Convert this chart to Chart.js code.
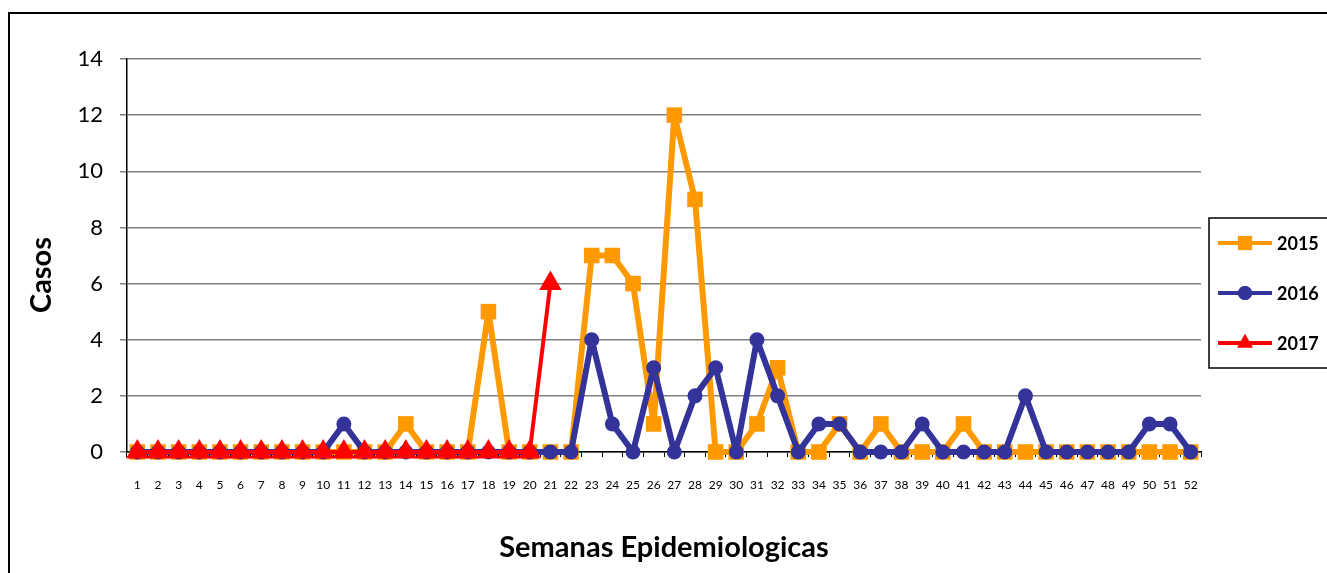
<!DOCTYPE html>
<html>
<head>
<meta charset="utf-8">
<script src="https://cdn.jsdelivr.net/npm/chart.js@4.4.1/dist/chart.umd.min.js"></script>
<style>
  html, body { margin: 0; padding: 0; background: #fff; overflow: hidden; }
  .frame {
    position: absolute; left: 8px; top: 12px; width: 1340px; height: 600px;
    border: 2px solid #000; box-sizing: border-box;
  }
  canvas { position: absolute; left: 0; top: 0; }
</style>
</head>
<body>
<div class="frame"></div>
<canvas id="chart" width="1327" height="573"></canvas>
<script>
const weeks = Array.from({ length: 52 }, (_, i) => String(i + 1));

const cases2015 = [0,0,0,0,0,0,0,0,0,0, 0,0,0,1,0,0,0,5,0,0, 0,0,7,7,6,1,12,9,0,0,
                   1,3,0,0,1,0,1,0,0,0, 1,0,0,0,0,0,0,0,0,0, 0,0];
const cases2016 = [0,0,0,0,0,0,0,0,0,0, 1,0,0,0,0,0,0,0,0,0, 0,0,4,1,0,3,0,2,3,0,
                   4,2,0,1,1,0,0,0,1,0, 0,0,0,2,0,0,0,0,0,1, 1,0];
const cases2017 = [0,0,0,0,0,0,0,0,0,0, 0,0,0,0,0,0,0,0,0,0, 6];

const yTicks = [0, 2, 4, 6, 8, 10, 12, 14];

const COLOR_2015 = "#FF9900";
const COLOR_2016 = "#333399";
const COLOR_2017 = "#FF0000";
const FONT = "Lato, 'Open Sans', sans-serif";

// y title sits a bit below the middle of the plot, as in the original
const yTitlePlugin = {
    id: "yTitle",
    afterDraw(chart) {
        const ctx = chart.ctx;
        ctx.save();
        ctx.translate(42, 275);
        ctx.rotate(-Math.PI / 2);
        ctx.fillStyle = "#000";
        ctx.font = "bold 29px " + FONT;
        ctx.textAlign = "center";
        ctx.textBaseline = "middle";
        ctx.fillText("Casos", 0, 0);
        ctx.restore();
    }
};

const legendPlugin = {
    id: "boxLegend",
    afterDraw(chart) {
        const ctx = chart.ctx;
        const x = 1209, y = 218, w = 130, h = 150;
        ctx.save();
        ctx.strokeStyle = "#000";
        ctx.lineWidth = 1.5;
        ctx.strokeRect(x, y, w, h);
        const rows = [
            { label: "2015", color: COLOR_2015, style: "rect", r: 10 },
            { label: "2016", color: COLOR_2016, style: "circle", r: 7 },
            { label: "2017", color: COLOR_2017, style: "triangle", r: 9 }
        ];
        rows.forEach((row, i) => {
            const cy = y + 25 + i * 50;
            ctx.strokeStyle = row.color;
            ctx.lineWidth = 4;
            ctx.beginPath();
            ctx.moveTo(x + 9, cy);
            ctx.lineTo(x + 63, cy);
            ctx.stroke();
            ctx.fillStyle = row.color;
            ctx.lineWidth = 1;
            Chart.helpers.drawPoint(ctx, { pointStyle: row.style, radius: row.r, borderWidth: 0 }, x + 36, cy);
            ctx.fill();
            ctx.fillStyle = "#000";
            ctx.font = "bold 18px " + FONT;
            ctx.textBaseline = "middle";
            ctx.fillText(row.label, x + 68, cy + 1);
        });
        ctx.restore();
    }
};

new Chart(document.getElementById("chart"), {
    type: "line",
    data: {
        labels: weeks,
        datasets: [
            {
                label: "2015",
                data: cases2015,
                borderColor: COLOR_2015,
                backgroundColor: COLOR_2015,
                borderWidth: 6,
                borderJoinStyle: "bevel",
                pointStyle: "rect",
                pointRadius: 11,
                pointBorderWidth: 0,
                clip: false,
                order: 3
            },
            {
                label: "2016",
                data: cases2016,
                borderColor: COLOR_2016,
                backgroundColor: COLOR_2016,
                borderWidth: 6,
                borderJoinStyle: "bevel",
                pointStyle: "circle",
                pointRadius: 7.5,
                pointBorderWidth: 0,
                clip: false,
                order: 2
            },
            {
                label: "2017",
                data: cases2017,
                borderColor: COLOR_2017,
                backgroundColor: COLOR_2017,
                borderWidth: 4,
                borderJoinStyle: "bevel",
                pointStyle: "triangle",
                pointRadius: 13,
                pointBorderWidth: 0,
                clip: false,
                order: 1
            }
        ]
    },
    options: {
        responsive: false,
        animation: false,
        layout: { padding: { top: 59, right: 126, left: 0, bottom: 0 } },
        elements: { line: { tension: 0 } },
        scales: {
            x: {
                offset: true,
                afterFit: (scale) => { scale.height = 121; },
                grid: {
                    offset: true,
                    drawOnChartArea: false,
                    drawTicks: true,
                    tickLength: 5,
                    color: "#000"
                },
                border: { color: "#000", width: 1.5 },
                ticks: {
                    font: { size: 12, family: FONT },
                    color: "#000",
                    padding: 21,
                    maxRotation: 0,
                    autoSkip: false
                },
                title: {
                    display: true,
                    text: "Semanas Epidemiologicas",
                    font: { size: 29, weight: "bold", family: FONT },
                    color: "#000",
                    padding: { top: 0, bottom: 8 }
                }
            },
            y: {
                min: 0,
                max: 14,
                afterFit: (scale) => { scale.width = 127; },
                afterBuildTicks: (scale) => { scale.ticks = yTicks.map(v => ({ value: v })); },
                grid: {
                    color: "#808080",
                    lineWidth: 1.5,
                    tickLength: 7
                },
                border: { color: "#000", width: 1.5 },
                ticks: {
                    font: { size: 22, family: FONT },
                    color: "#000",
                    padding: 17
                }
            }
        },
        plugins: {
            legend: { display: false },
            tooltip: { enabled: false }
        }
    },
    plugins: [legendPlugin, yTitlePlugin]
});
</script>
</body>
</html>
